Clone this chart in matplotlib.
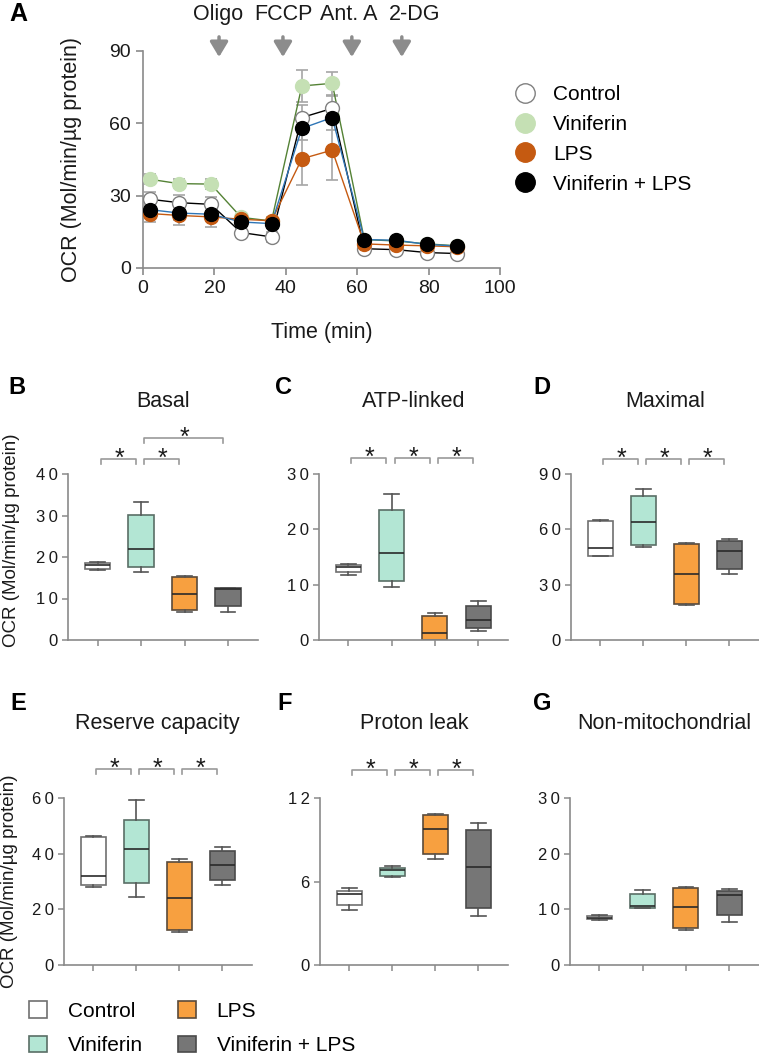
import matplotlib
matplotlib.use('Agg')
import matplotlib.pyplot as plt
import matplotlib.transforms as mtransforms
from matplotlib.lines import Line2D
from matplotlib.patches import Patch

plt.rcParams['font.family'] = ['Liberation Sans', 'DejaVu Sans']

# ---------------- data ----------------
groups = ['Control', 'Viniferin', 'LPS', 'Viniferin + LPS']

time_min = [2, 10, 19, 27.5, 36, 44.5, 53, 62, 71, 79.5, 88]
ocr_control = [28.5, 27.1, 26.4, 14.7, 12.9, 62.4, 66.2, 8.0, 7.6, 6.4, 6.0]
ocr_viniferin = [36.8, 35.0, 34.8, 21.0, 19.5, 75.5, 76.6, 11.8, 11.2, 10.0, 9.2]
ocr_lps = [22.6, 21.8, 21.2, 20.2, 19.6, 45.3, 48.9, 10.0, 9.5, 9.2, 8.8]
ocr_vlps = [24.2, 22.8, 22.3, 19.1, 18.4, 57.9, 62.4, 11.8, 11.5, 9.8, 9.1]
err_control = [3, 3, 3, 2, 2, 5, 5, 1.5, 1.5, 1, 1]
err_viniferin = [2, 2, 2, 1.5, 1.5, 6.5, 4.8, 1, 1, 1, 1]
err_lps = [3.6, 4, 4, 1.5, 1.5, 10.7, 12.5, 1, 1, 1, 1]
err_vlps = [3, 3, 3, 1.5, 1.5, 5, 5, 1, 1, 1, 1]

inj_labels = ['Oligo', 'FCCP', 'Ant. A', '2-DG']
inj_times = [21.3, 39.2, 58.5, 72.5]
inj_label_x = [21.0, 39.2, 57.7, 76.0]

# five-number summaries per group: [whisker low, Q1, median, Q3, whisker high]
basal_stats = [[16.8, 17.2, 18.0, 18.6, 18.9], [16.3, 17.7, 22.0, 30.1, 33.3],
               [6.8, 7.2, 11.2, 15.1, 15.5], [6.8, 8.2, 12.3, 12.5, 12.6]]
atp_stats = [[11.7, 12.2, 13.2, 13.6, 13.8], [9.5, 10.7, 15.8, 23.5, 26.4],
             [0.0, 0.0, 1.2, 4.4, 4.8], [1.7, 2.1, 3.7, 6.2, 7.0]]
maximal_stats = [[45.5, 45.8, 50.0, 64.7, 65.2], [50.2, 51.3, 64.1, 78.2, 81.7],
                 [18.8, 19.5, 35.6, 51.9, 52.4], [35.6, 38.6, 48.3, 53.5, 55.0]]
reserve_stats = [[28.1, 28.6, 32.0, 46.0, 46.3], [24.6, 29.3, 41.7, 52.0, 59.4],
                 [11.9, 12.4, 23.9, 37.1, 38.2], [28.6, 30.4, 36.0, 40.8, 42.4]]
proton_stats = [[3.98, 4.3, 5.07, 5.33, 5.5], [6.29, 6.4, 6.81, 7.0, 7.14],
                [7.64, 7.98, 9.74, 10.79, 10.88], [3.55, 4.12, 7.05, 9.69, 10.17]]
nonmito_stats = [[8.03, 8.2, 8.5, 8.75, 8.9], [10.18, 10.3, 10.6, 12.75, 13.5],
                 [6.24, 6.6, 10.36, 13.8, 14.1], [7.67, 8.9, 12.57, 13.3, 13.6]]

# significance pairs: (group i, group j, bracket level)
basal_sig = [(1, 2, 0), (2, 3, 0), (2, 4, 1)]
atp_sig = [(1, 2, 0), (2, 3, 0), (3, 4, 0)]
maximal_sig = [(1, 2, 0), (2, 3, 0), (3, 4, 0)]
reserve_sig = [(1, 2, 0), (2, 3, 0), (3, 4, 0)]
proton_sig = [(1, 2, 0), (2, 3, 0), (3, 4, 0)]
nonmito_sig = []

# ---------------- style ----------------
W, H = 759, 1055
fig = plt.figure(figsize=(W / 100, H / 100), dpi=100)

def fbox(x0, y0, x1, y1):
    return [x0 / W, 1 - y1 / H, (x1 - x0) / W, (y1 - y0) / H]

spine_c = '#8a8a8a'
text_c = '#1a1a1a'
box_fill = ['#ffffff', '#b3e6d4', '#f7a040', '#767676']
box_edge = ['#707070', '#5a6e66', '#5a4a3a', '#4a4a4a']

# ---------------- panel A ----------------
axA = fig.add_axes(fbox(143, 51, 500, 268))
series = [
    (ocr_control, err_control, 'black', 'white', '#808080', groups[0]),
    (ocr_viniferin, err_viniferin, '#548235', '#c5e0b4', '#c5e0b4', groups[1]),
    (ocr_lps, err_lps, '#c55a11', '#c55a11', '#c55a11', groups[2]),
    (ocr_vlps, err_vlps, '#2e75b6', 'black', 'black', groups[3]),
]
handles = []
for vals, errs, lc, mfc, mec, lab in series:
    axA.errorbar(time_min, vals, yerr=errs, fmt='none', ecolor='#a6a6a6',
                 elinewidth=1.2, capsize=4, capthick=1.2, zorder=1)
for vals, errs, lc, mfc, mec, lab in series:
    axA.plot(time_min, vals, color=lc, lw=1.0, zorder=2)
    axA.plot(time_min, vals, ls='none', marker='o', ms=10, mfc=mfc,
             mec=mec, mew=1.0, zorder=3)
    handles.append(Line2D([], [], ls='none', marker='o', ms=14, mfc=mfc,
                          mec=mec, mew=1.0, label=lab))
axA.set_xlim(0, 100)
axA.set_ylim(0, 90)
axA.set_xticks([0, 20, 40, 60, 80, 100])
axA.set_yticks([0, 30, 60, 90])
for s in ['top', 'right']:
    axA.spines[s].set_visible(False)
for s in ['left', 'bottom']:
    axA.spines[s].set_color(spine_c)
    axA.spines[s].set_linewidth(1.2)
axA.tick_params(colors=spine_c, labelcolor=text_c, labelsize=14, length=5, width=1.2)
axA.set_xlabel('Time (min)', fontsize=15.5, color=text_c)
axA.xaxis.set_label_coords(0.5, -0.25)
axA.set_ylabel('OCR (Mol/min/µg protein)', fontsize=15.5, color=text_c)
axA.yaxis.set_label_coords(-0.17, 0.5)

blendA = mtransforms.blended_transform_factory(axA.transData, axA.transAxes)
for t, lx, lab in zip(inj_times, inj_label_x, inj_labels):
    axA.annotate('', xy=(t, 0.972), xytext=(t, 1.065), xycoords=blendA,
                 textcoords=blendA,
                 arrowprops=dict(arrowstyle='-|>,head_length=0.5,head_width=0.3',
                                 color='#8c8c8c', lw=2.5, shrinkA=0, shrinkB=0,
                                 mutation_scale=18))
    axA.text(lx, 1.166, lab, transform=blendA, ha='center', va='center',
             fontsize=15.5, color=text_c)

fig.legend(handles=handles, loc='upper left',
           bbox_to_anchor=(508 / W, 1 - 85 / H), frameon=False, fontsize=15,
           handlelength=1.6, handletextpad=0.55, labelspacing=0.52,
           borderpad=0, borderaxespad=0)

# ---------------- box panels ----------------
def box_panel(rect, stats, sig, title, yticks, ymax, letter, letter_xy,
              title_y, br_gap_px, ylabel=None, ylabel_xy=None):
    x0, y0, x1, y1 = rect
    ax = fig.add_axes(fbox(x0, y0, x1, y1))
    hpx = y1 - y0
    bxs = []
    for s in stats:
        bxs.append(dict(whislo=s[0], q1=s[1], med=s[2], q3=s[3], whishi=s[4],
                        fliers=[]))
    bp = ax.bxp(bxs, positions=[1, 2, 3, 4], widths=0.58, patch_artist=True,
                showfliers=False, capwidths=0.34,
                medianprops=dict(color='#2a2a2a', lw=1.2),
                whiskerprops=dict(color='#555555', lw=1.2),
                capprops=dict(color='#555555', lw=1.2),
                boxprops=dict(lw=1.2))
    for i, patch in enumerate(bp['boxes']):
        patch.set_facecolor(box_fill[i])
        patch.set_edgecolor(box_edge[i])
    ax.set_xlim(0.32, 4.69)
    ax.set_ylim(0, ymax)
    ax.set_yticks(yticks)
    ax.set_yticklabels(['\u2009'.join(str(v)) for v in yticks])
    ax.set_xticks([1, 2, 3, 4])
    ax.set_xticklabels([])
    for s in ['top', 'right']:
        ax.spines[s].set_visible(False)
    for s in ['left', 'bottom']:
        ax.spines[s].set_color(spine_c)
        ax.spines[s].set_linewidth(1.2)
    ax.tick_params(colors=spine_c, labelcolor=text_c, labelsize=12,
                   length=4, width=1.1)
    ax.text(2.5, title_y, title, transform=mtransforms.blended_transform_factory(
        ax.transData, ax.transAxes), ha='center', va='center', fontsize=15.5,
        color=text_c)
    blend = mtransforms.blended_transform_factory(ax.transData, ax.transAxes)
    for i, j, lvl in sig:
        top = 1 + (br_gap_px + lvl * 21) / hpx
        leg = 5 / hpx
        xa, xb = i + 0.07, j - 0.12
        ax.plot([xa, xa, xb, xb], [top - leg, top, top, top - leg],
                transform=blend, color='#9a9a9a', lw=1.2, clip_on=False)
        ax.text((xa + xb) / 2 + 0.02, top - 7 / hpx, '*', transform=blend,
                ha='center', va='baseline', fontsize=18, color=text_c)
    if ylabel:
        ax.set_ylabel(ylabel, fontsize=13.5, color=text_c)
        ax.yaxis.set_label_coords(*ylabel_xy)
    fig.text(letter_xy[0] / W, 1 - letter_xy[1] / H, letter, fontsize=17,
             fontweight='bold', ha='center', va='center', color='black')
    return ax

ylab = 'OCR (Mol/min/µg protein)'
box_panel((68, 474, 258, 640), basal_stats, basal_sig, 'Basal',
          [0, 10, 20, 30, 40], 40, 'B', (17, 388), 1.434, 15, ylab, (-0.255, 0.6))
box_panel((319, 474, 508, 640), atp_stats, atp_sig, 'ATP-linked',
          [0, 10, 20, 30], 30, 'C', (284, 388), 1.434, 16)
box_panel((571, 474, 759, 640), maximal_stats, maximal_sig, 'Maximal',
          [0, 30, 60, 90], 90, 'D', (542, 388), 1.434, 15)
box_panel((64, 798, 252, 965), reserve_stats, reserve_sig, 'Reserve capacity',
          [0, 20, 40, 60], 60, 'E', (18, 704), 1.449, 29, ylab, (-0.245, 0.5))
box_panel((320, 798, 508, 965), proton_stats, proton_sig, 'Proton leak',
          [0, 6, 12], 12, 'F', (285, 703), 1.449, 28)
box_panel((570, 798, 759, 965), nonmito_stats, nonmito_sig, 'Non-mitochondrial',
          [0, 10, 20, 30], 30, 'G', (542, 703), 1.449, 28)

fig.text(18 / W, 1 - 14 / H, 'A', fontsize=18, fontweight='bold',
         ha='center', va='center', color='black')

# bottom legend
patches = [Patch(facecolor=box_fill[i], edgecolor=box_edge[i], lw=1.2,
                 label=groups[i]) for i in range(4)]
fig.legend(handles=patches, loc='upper left', ncol=2,
           bbox_to_anchor=(29 / W, 1 - 1001 / H), frameon=False, fontsize=15,
           handlelength=0.85, handleheight=0.85, handletextpad=1.0,
           columnspacing=1.7, labelspacing=0.72, borderpad=0, borderaxespad=0)

fig.savefig('out.png', dpi=100)
